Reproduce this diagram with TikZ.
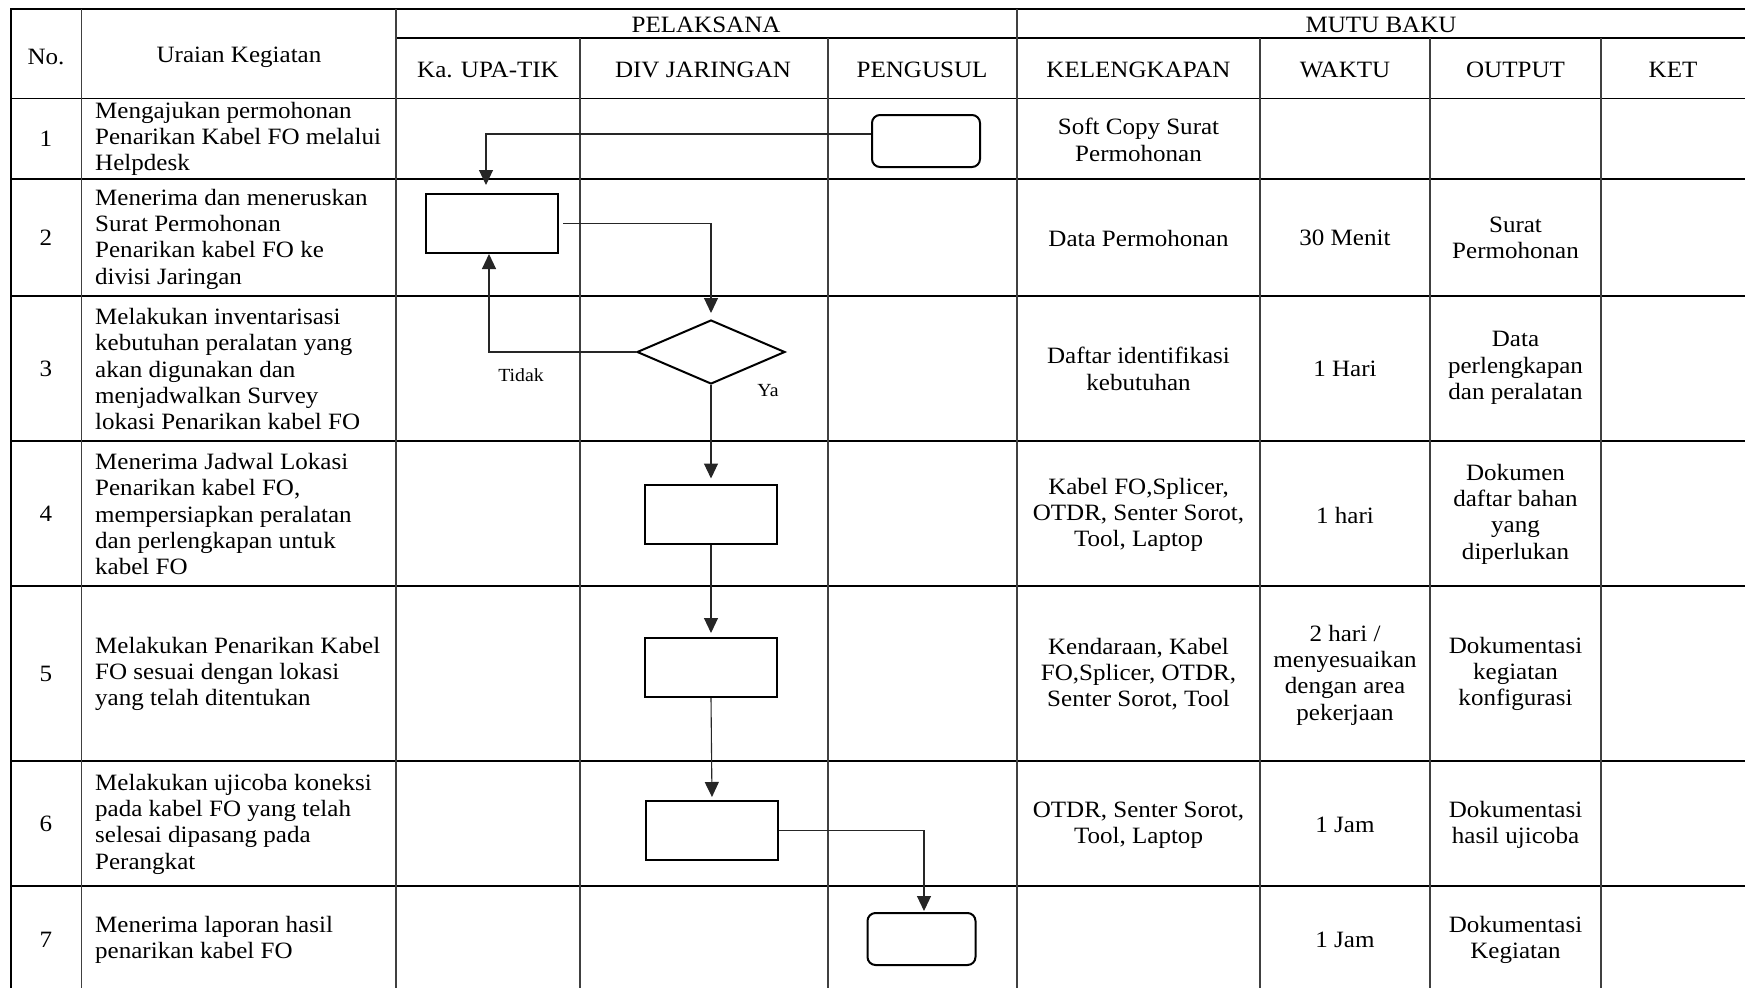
\documentclass[tikz,border=0pt]{standalone}
\usepackage{fontspec}
\setmainfont{Liberation Serif}[FakeStretch=1.07]
\usetikzlibrary{shapes.geometric,arrows.meta}
\begin{document}
\begin{tikzpicture}[x=1pt,y=-1pt,
  hline/.style={line width=2pt},
  vline/.style={line width=1.3pt, black!75},
  cell/.style={align=center, inner sep=0pt, font=\fontsize{23.4}{26.3}\selectfont},
  desc/.style={align=left, anchor=west, inner sep=0pt, font=\fontsize{23.4}{26.3}\selectfont},
  proc/.style={draw, line width=2pt, minimum width=132pt, minimum height=59pt, inner sep=0pt},
  term/.style={draw, line width=2pt, rounded corners=8pt, minimum width=108pt, minimum height=52pt, inner sep=0pt},
  dec/.style={draw, diamond, line width=2pt, minimum width=148pt, minimum height=64pt, inner sep=0pt},
  conn/.style={line width=1.1pt, black!85, -{Triangle[length=15pt,width=14pt]}},
  lbl/.style={inner sep=0pt, font=\fontsize{18.5}{20}\selectfont}
]
\fill[white] (0,0) rectangle (1745,988);
\useasboundingbox (0,0) rectangle (1745,988);

% grid
\draw[hline] (10,9) -- (1745,9);
\draw[hline] (396,38) -- (1745,38);
\draw[line width=1pt] (10,98) -- (1745,98);
\foreach \y in {179,296,441,586,761,886} \draw[hline] (10,\y) -- (1745,\y);
\draw[line width=2pt] (10.7,8) -- (10.7,988);
\draw[vline] (81.5,9) -- (81.5,988);
\draw[vline] (396,9) -- (396,988);
\draw[vline] (1017,9) -- (1017,988);
\foreach \x in {580,828,1260,1430,1601} \draw[vline] (\x,38) -- (\x,988);

% headers
\node[cell] (hno) at (46,57) {No.};
\node[cell] (hur) at (239,57) {Uraian Kegiatan};
\node[cell] (hpel) at (706,25) {PELAKSANA};
\node[cell] (hmutu) at (1381,25) {MUTU BAKU};
\node[cell] (hka) at (488,70) {Ka. UPA-TIK};
\node[cell] (hdiv) at (703,70) {DIV JARINGAN};
\node[cell] (hpen) at (922,70) {PENGUSUL};
\node[cell] (hkel) at (1138.5,70) {KELENGKAPAN};
\node[cell] (hwak) at (1345,70) {WAKTU};
\node[cell] (hout) at (1515.5,70) {OUTPUT};
\node[cell] (hket) at (1673,70) {KET};

% numbers
\node[cell] (n1) at (46,139) {1};
\node[cell] (n2) at (46,238) {2};
\node[cell] (n3) at (46,369) {3};
\node[cell] (n4) at (46,514) {4};
\node[cell] (n5) at (46,674) {5};
\node[cell] (n6) at (46,824) {6};
\node[cell] (n7) at (46,940) {7};

% descriptions
\node[desc] (u1) at (95,139) {Mengajukan permohonan\\Penarikan Kabel FO melalui\\Helpdesk};
\node[desc] (u2) at (95,239) {Menerima dan meneruskan\\Surat Permohonan\\Penarikan kabel FO ke\\divisi Jaringan};
\node[desc] (u3) at (95,369) {Melakukan inventarisasi\\kebutuhan peralatan yang\\akan digunakan dan\\menjadwalkan Survey\\lokasi Penarikan kabel FO};
\node[desc] (u4) at (95,514) {Menerima Jadwal Lokasi\\Penarikan kabel FO,\\mempersiapkan peralatan\\dan perlengkapan untuk\\kabel FO};
\node[desc] (u5) at (95,674) {Melakukan Penarikan Kabel\\FO sesuai dengan lokasi\\yang telah ditentukan};
\node[desc] (u6) at (95,824) {Melakukan ujicoba koneksi\\pada kabel FO yang telah\\selesai dipasang pada\\Perangkat};
\node[desc] (u7) at (95,940) {Menerima laporan hasil\\penarikan kabel FO};

% mutu baku
\node[cell] (k1) at (1138.5,140) {Soft Copy Surat\\Permohonan};
\node[cell] (k2) at (1138.5,238) {Data Permohonan};
\node[cell] (w2) at (1345,238) {30 Menit};
\node[cell] (o2) at (1515.5,238) {Surat\\Permohonan};
\node[cell] (k3) at (1138.5,369) {Daftar identifikasi\\kebutuhan};
\node[cell] (w3) at (1345,369) {1 Hari};
\node[cell] (o3) at (1515.5,368) {Data\\perlengkapan\\dan peralatan};
\node[cell] (k4) at (1138.5,515) {Kabel FO,Splicer,\\OTDR, Senter Sorot,\\Tool, Laptop};
\node[cell] (w4) at (1345,515) {1 hari};
\node[cell] (o4) at (1515.5,514) {Dokumen\\daftar bahan\\yang\\diperlukan};
\node[cell] (k5) at (1138.5,674) {Kendaraan, Kabel\\FO,Splicer, OTDR,\\Senter Sorot, Tool};
\node[cell] (w5) at (1345,675) {2 hari /\\menyesuaikan\\dengan area\\pekerjaan};
\node[cell] (o5) at (1515.5,674) {Dokumentasi\\kegiatan\\konfigurasi};
\node[cell] (k6) at (1138.5,825) {OTDR, Senter Sorot,\\Tool, Laptop};
\node[cell] (w6) at (1345,825) {1 Jam};
\node[cell] (o6) at (1515.5,825) {Dokumentasi\\hasil ujicoba};
\node[cell] (w7) at (1345,940) {1 Jam};
\node[cell] (o7) at (1515.5,940) {Dokumentasi\\Kegiatan};

% flowchart
\node[term] (t1) at (926,141) {};
\node[proc] (p2) at (492,223.5) {};
\node[dec] (d3) at (711,352) {};
\node[proc] (p4) at (711,514) {};
\node[proc] (p5) at (711,667.5) {};
\node[proc] (p6) at (712,830.5) {};
\node[term] (t7) at (921.5,939) {};

\draw[conn, shorten >=8pt] ([yshift=7pt]t1.west) -| ([xshift=-6pt]p2.north);
\draw[conn, shorten <=4pt, shorten >=6pt] (p2.east) -| (d3.north);
\draw[conn] (d3.west) -| ([xshift=-3pt]p2.south);
\draw[conn, shorten >=5pt] (d3.south) -- (p4.north);
\draw[conn, shorten >=4pt] (p4.south) -- (p5.north);
\draw[conn, shorten >=3pt] (p5.south) -- (p6.north);
\draw[conn, shorten >=1pt] (p6.east) -| ([xshift=2.5pt]t7.north);

\node[lbl] (tidak) at (521,375) {Tidak};
\node[lbl] (ya) at (768,391) {Ya};
\end{tikzpicture}
\end{document}
